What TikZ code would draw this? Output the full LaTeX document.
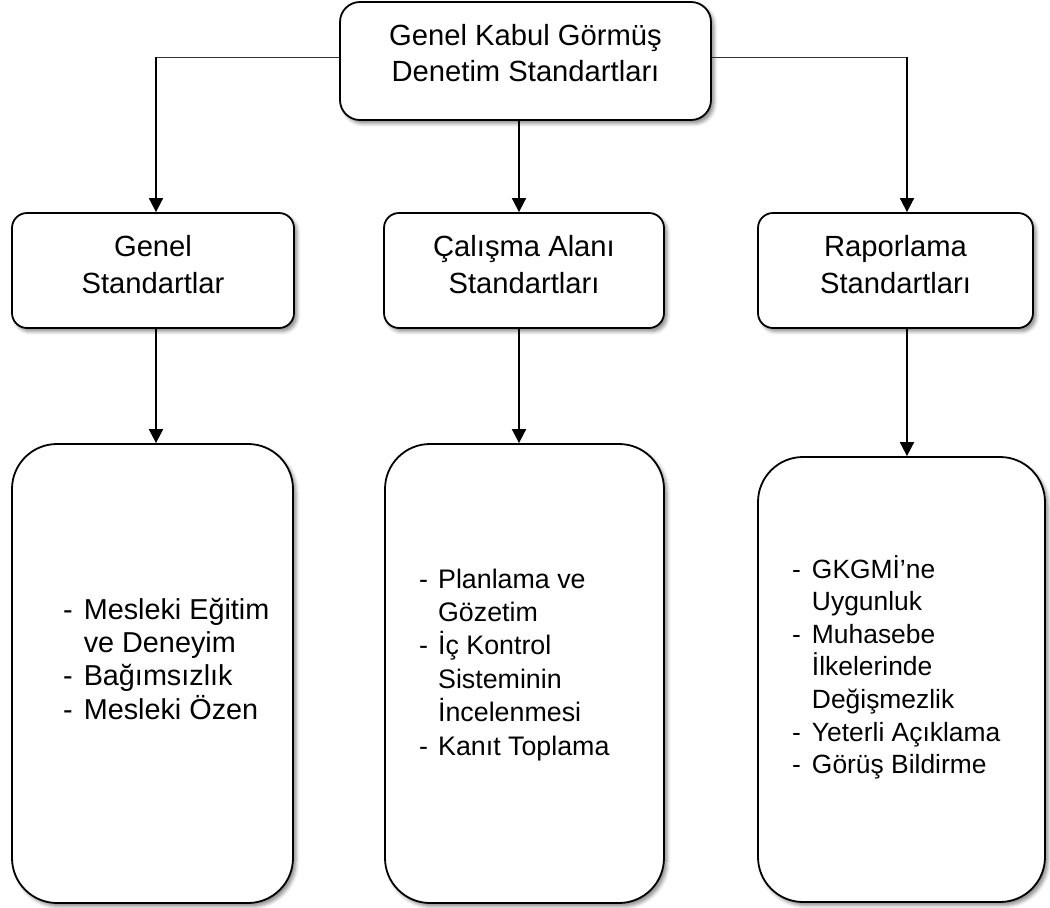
\documentclass[tikz,border=0pt]{standalone}
\usepackage{fontspec}
\setmainfont{Liberation Sans}
\usetikzlibrary{arrows.meta,shadows.blur}
\newcommand\hdfont{\fontsize{29.2}{36.5}\selectfont}
\newcommand\lstfontA{\fontsize{28.8}{33.3}\selectfont}
\newcommand\lstfontB{\fontsize{26.8}{33.4}\selectfont}
\newcommand\lstfontC{\fontsize{26.4}{32.6}\selectfont}
\begin{document}
\begin{tikzpicture}[x=1pt,y=-1pt,
  box/.style={draw=black, line width=1.8pt, fill=white, rounded corners=#1, inner sep=0pt,
    blur shadow={shadow xshift=3pt, shadow yshift=-3.5pt, shadow blur radius=3.5pt, shadow opacity=45}},
  head/.style={font=\hdfont, align=center},
  lst/.style={inner sep=0pt, anchor=base west},
  arr/.style={draw=black, line width=1.8pt, -{Triangle[length=14pt,width=14pt]}},
  thin/.style={draw=black!80, line width=1pt}]
\useasboundingbox (0,0) rectangle (1050,908);

% top
\node[box=20pt, head, minimum width=371pt, minimum height=118pt, text depth=16pt] (top) at (525.5,61)
  {Genel Kabul Görmüş\\Denetim Standartları};

% middle row
\node[box=15pt, head, minimum width=282pt, minimum height=115pt, text depth=12pt] (g1) at (153,270.5)
  {Genel\\Standartlar};
\node[box=15pt, head, minimum width=280pt, minimum height=115pt, text depth=12pt] (g2) at (524,270.5)
  {Çalışma Alanı\\Standartları};
\node[box=15pt, head, minimum width=275pt, minimum height=115pt, text depth=12pt] (g3) at (895.5,270.5)
  {Raporlama\\Standartları};

% bottom row
\node[box=45pt, minimum width=281pt, minimum height=459pt] (b1) at (152.5,673.5) {};
\node[box=45pt, minimum width=279pt, minimum height=459pt] (b2) at (524.5,673.5) {};
\node[box=45pt, minimum width=287pt, minimum height=445pt] (b3) at (901.5,679.5) {};

% list texts
\node[lst, font=\lstfontA] (t1) at (63,619) {\begin{tabular}[t]{@{}l@{\hspace{11pt}}l@{}}
  - & Mesleki Eğitim\\
    & ve Deneyim\\
  - & Bağımsızlık\\
  - & Mesleki Özen
  \end{tabular}};
\node[lst, font=\lstfontB] (t2) at (419,588) {\begin{tabular}[t]{@{}l@{\hspace{10pt}}l@{}}
  - & Planlama ve\\
    & Gözetim\\
  - & İç Kontrol\\
    & Sisteminin\\
    & İncelenmesi\\
  - & Kanıt Toplama
  \end{tabular}};
\node[lst, font=\lstfontC] (t3) at (792,578) {\begin{tabular}[t]{@{}l@{\hspace{11pt}}l@{}}
  - & GKGMİ’ne\\
    & Uygunluk\\
  - & Muhasebe\\
    & İlkelerinde\\
    & Değişmezlik\\
  - & Yeterli Açıklama\\
  - & Görüş Bildirme
  \end{tabular}};

% connectors
\coordinate (c1) at (156,57);
\coordinate (c2) at (519,57);
\coordinate (c3) at (907,57);
\draw[thin] (top.west |- c1) -- (c1);
\draw[arr] (c1) -- (c1 |- g1.north);
\draw[thin] (top.east |- c3) -- (c3);
\draw[arr] (c3) -- (c3 |- g3.north);
\draw[arr] (top.south -| c2) -- (g2.north -| c2);
\draw[arr] (g1.south -| c1) -- (b1.north -| c1);
\draw[arr] (g2.south -| c2) -- (b2.north -| c2);
\draw[arr] (g3.south -| c3) -- (b3.north -| c3);
\end{tikzpicture}
\end{document}
